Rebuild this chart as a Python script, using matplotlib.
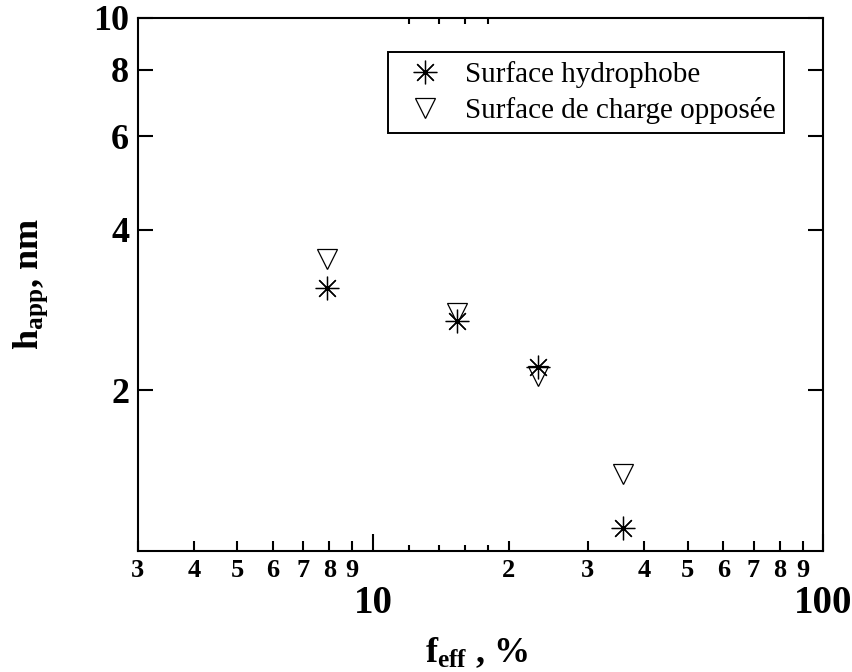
import matplotlib
matplotlib.use("Agg")
import matplotlib.pyplot as plt
from matplotlib.ticker import FixedLocator, FixedFormatter, NullLocator

# -------------------- data --------------------
f_hydro = [7.9, 15.4, 23.3, 36.0]
h_hydro = [3.11, 2.70, 2.21, 1.10]
f_charge = [7.9, 15.4, 23.3, 36.0]
h_charge = [3.52, 2.79, 2.13, 1.39]

labels = ["Surface hydrophobe", "Surface de charge opposée"]

x_major = [10, 100]
x_minor = [3, 4, 5, 6, 7, 8, 9, 20, 30, 40, 50, 60, 70, 80, 90]
x_minor_labels = ["3", "4", "5", "6", "7", "8", "9", "2", "3", "4", "5", "6", "7", "8", "9"]
x_fine = [12, 14, 16, 18]
y_major = [2, 4, 6, 8, 10]

# -------------------- style --------------------
plt.rcParams['font.family'] = ['Liberation Serif', 'DejaVu Serif']
plt.rcParams['mathtext.fontset'] = 'custom'
plt.rcParams['mathtext.rm'] = 'Liberation Serif:bold'
plt.rcParams['mathtext.bf'] = 'Liberation Serif:bold'
plt.rcParams['mathtext.it'] = 'Liberation Serif:bold:italic'

W, H = 852, 672
fig = plt.figure(figsize=(W / 100, H / 100), dpi=100)
left, right, top, bottom = 137.5, 823.3, 18, 550.5
ax = fig.add_axes([left / W, 1 - bottom / H, (right - left) / W, (bottom - top) / H])

ax.plot(f_hydro, h_hydro, linestyle='none', marker=(8, 2, 0), markersize=17,
        markeredgewidth=0.9, color='black', label=labels[0])
ax.plot(f_charge, h_charge, linestyle='none', marker='v', markersize=15,
        markeredgewidth=0.9, markerfacecolor='none', markeredgecolor='black',
        label=labels[1])

ax.set_xscale('log')
ax.set_yscale('log')
ax.set_xlim(3, 100)
ax.set_ylim(1, 10)

# x ticks
ax.xaxis.set_major_locator(FixedLocator(x_major))
ax.xaxis.set_major_formatter(FixedFormatter(["10", "100"]))
ax.xaxis.set_minor_locator(FixedLocator(x_minor))
ax.xaxis.set_minor_formatter(FixedFormatter(x_minor_labels))
ax.tick_params(axis='x', which='major', direction='in', length=12, width=1.5,
               top=True, pad=25, labelsize=28)
ax.tick_params(axis='x', which='minor', direction='in', length=7, width=1.5,
               top=True, pad=6, labelsize=19)

# y ticks
ax.yaxis.set_major_locator(FixedLocator(y_major))
ax.yaxis.set_major_formatter(FixedFormatter([str(v) for v in y_major]))
ax.yaxis.set_minor_locator(NullLocator())
ax.tick_params(axis='y', which='major', direction='in', length=11, width=1.5,
               right=True, pad=6, labelsize=26)

for lab in ax.get_xticklabels(which='both') + ax.get_yticklabels():
    lab.set_fontweight('bold')

for sp in ax.spines.values():
    sp.set_linewidth(1.5)

# short extra ticks between 10 and 20
axf = ax.twiny()
axf.set_xscale('log')
axf.set_xlim(ax.get_xlim())
axf.xaxis.set_major_locator(FixedLocator(x_fine))
axf.xaxis.set_minor_locator(NullLocator())
axf.tick_params(axis='x', which='major', direction='in', length=4, width=1.5,
                top=True, bottom=True, labeltop=False, labelbottom=False)
for sp in axf.spines.values():
    sp.set_visible(False)

ax.set_xlabel(r'$\mathrm{f_{eff}}$ , $\mathit{\%}$', fontsize=26, fontweight='bold')
ax.xaxis.set_label_coords(0.495, -0.16)
ax.set_ylabel(r'$\mathrm{h_{app}}$, nm', fontsize=26, fontweight='bold')
ax.yaxis.set_label_coords(-0.128, 0.5)

leg = ax.legend(loc='upper left', bbox_to_anchor=(0.365, 0.936), borderaxespad=0,
                fontsize=21, numpoints=1, handlelength=1.93, handletextpad=0.4,
                borderpad=0.3, labelspacing=0.32, fancybox=False, framealpha=1,
                edgecolor='black')
leg.get_frame().set_linewidth(1.4)

fig.savefig("out.png", dpi=100)
